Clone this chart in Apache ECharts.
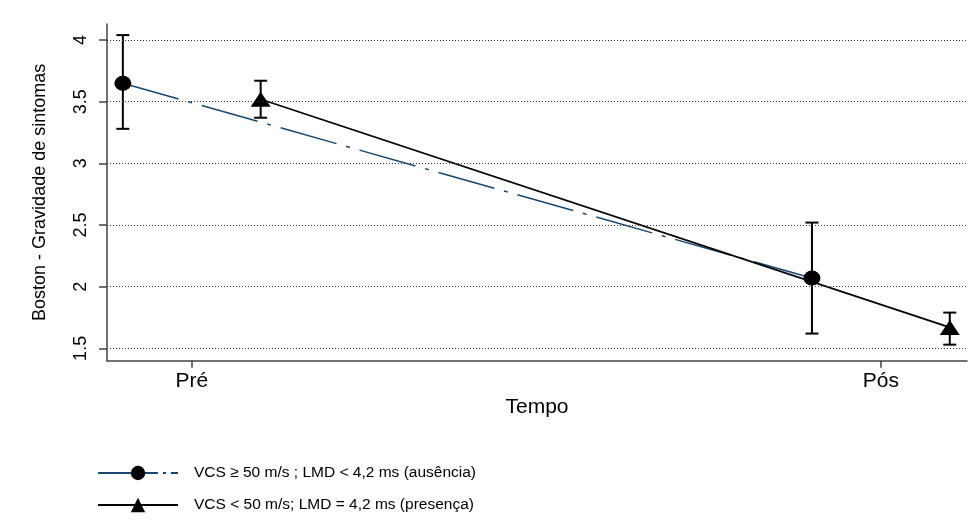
<!DOCTYPE html>
<html>
<head>
<meta charset="utf-8">
<script src="https://cdn.jsdelivr.net/npm/echarts@6/dist/echarts.min.js"></script>
<style>html,body{margin:0;padding:0;background:#fff}#c{width:980px;height:525px}</style>
</head>
<body>
<div id="c"></div>
<script>
// ---- data ----
var timeCategories = ['Pré', 'Pós'];
var timePositions = [1, 2];
var seriesNames = ['VCS \u2265 50 m/s ; LMD < 4,2 ms (ausência)', 'VCS < 50 m/s; LMD = 4,2 ms (presença)'];
var offsets = [-0.1, 0.1];
var meanAusencia = [3.65, 2.07];
var lowAusencia = [3.28, 1.62];
var highAusencia = [4.04, 2.52];
var meanPresenca = [3.52, 1.67];
var lowPresenca = [3.37, 1.53];
var highPresenca = [3.67, 1.79];
var yTicks = [1.5, 2, 2.5, 3, 3.5, 4];

function pts(means, off) { return means.map(function (m, i) { return [timePositions[i] + off, m]; }); }
function bars(lows, highs, off) { return lows.map(function (l, i) { return [timePositions[i] + off, l, highs[i]]; }); }

function errRender(params, api) {
  var x = api.value(0);
  var lo = api.coord([x, api.value(1)]);
  var hi = api.coord([x, api.value(2)]);
  var hw = 6.5;
  var st = { stroke: '#000', lineWidth: 2 };
  return {
    type: 'group',
    children: [
      { type: 'line', shape: { x1: lo[0], y1: lo[1], x2: hi[0], y2: hi[1] }, style: st },
      { type: 'line', shape: { x1: lo[0] - hw, y1: lo[1], x2: lo[0] + hw, y2: lo[1] }, style: st },
      { type: 'line', shape: { x1: hi[0] - hw, y1: hi[1], x2: hi[0] + hw, y2: hi[1] }, style: st }
    ]
  };
}

var chart = echarts.init(document.getElementById('c'), null, { renderer: 'canvas' });
var font = 'Liberation Sans, Arial, sans-serif';
chart.setOption({
  animation: false,
  backgroundColor: '#fff',
  grid: { left: 107, right: 13, top: 24, bottom: 164.3, containLabel: false },
  xAxis: {
    type: 'value', min: 0.877, max: 2.125,
    name: 'Tempo', nameLocation: 'middle', nameGap: 28,
    nameTextStyle: { fontFamily: font, fontSize: 21, color: '#000' },
    axisLine: { show: true, onZero: false, lineStyle: { color: '#444', width: 1.5 } },
    axisTick: { show: true, customValues: timePositions, length: 7, lineStyle: { color: '#444', width: 1.5 } },
    axisLabel: {
      customValues: timePositions, margin: 10, fontFamily: font, fontSize: 21, color: '#000',
      formatter: function (v) { var i = timePositions.indexOf(v); return i >= 0 ? timeCategories[i] : ''; }
    },
    splitLine: { show: false }
  },
  yAxis: {
    type: 'value', min: 1.4, max: 4.13,
    name: 'Boston - Gravidade de sintomas', nameLocation: 'middle', nameGap: 58, nameRotate: 90,
    nameTextStyle: { fontFamily: font, fontSize: 18, color: '#000' },
    axisLine: { show: true, onZero: false, lineStyle: { color: '#444', width: 1.5 } },
    axisTick: { show: true, customValues: yTicks, length: 8, lineStyle: { color: '#444', width: 1.5 } },
    axisLabel: {
      customValues: yTicks, rotate: 90, margin: 17, fontFamily: font, fontSize: 18, color: '#000',
      formatter: function (v) { return String(v); }
    },
    splitLine: { show: false }
  },
  legend: {
    orient: 'vertical', left: 97, top: 465, padding: 0,
    itemWidth: 80, itemHeight: 18, itemGap: 16,
    textStyle: { fontFamily: font, fontSize: 15.5, color: '#000', padding: [0, 0, 0, 11] },
    data: [
      { name: seriesNames[0], lineStyle: { type: [60, 5, 3, 5] } },
      { name: seriesNames[1] }
    ]
  },
  series: [
    {
      type: 'line', name: 'grid', data: [], silent: true, z: 1,
      markLine: {
        silent: true, symbol: 'none', animation: false,
        label: { show: false },
        lineStyle: { color: '#333', width: 1, type: [1, 2] },
        data: yTicks.map(function (v) { return { yAxis: v }; })
      }
    },
    {
      type: 'custom', name: 'errA', renderItem: errRender, data: bars(lowAusencia, highAusencia, offsets[0]),
      encode: { x: 0, y: [1, 2] }, z: 2, silent: true
    },
    {
      type: 'custom', name: 'errP', renderItem: errRender, data: bars(lowPresenca, highPresenca, offsets[1]),
      encode: { x: 0, y: [1, 2] }, z: 2, silent: true
    },
    {
      type: 'line', name: seriesNames[0], data: pts(meanAusencia, offsets[0]), z: 3,
      symbol: 'circle', symbolSize: [17, 15], showAllSymbol: true,
      itemStyle: { color: '#000', borderWidth: 0 },
      lineStyle: { color: '#1a476f', width: 1.5, type: [58, 10, 4, 10] }
    },
    {
      type: 'line', name: seriesNames[1], data: pts(meanPresenca, offsets[1]), z: 3,
      symbol: 'triangle', symbolSize: [20, 15], showAllSymbol: true,
      itemStyle: { color: '#000', borderWidth: 0 },
      lineStyle: { color: '#000', width: 1.8, type: 'solid' }
    }
  ]
});
</script>
</body>
</html>
